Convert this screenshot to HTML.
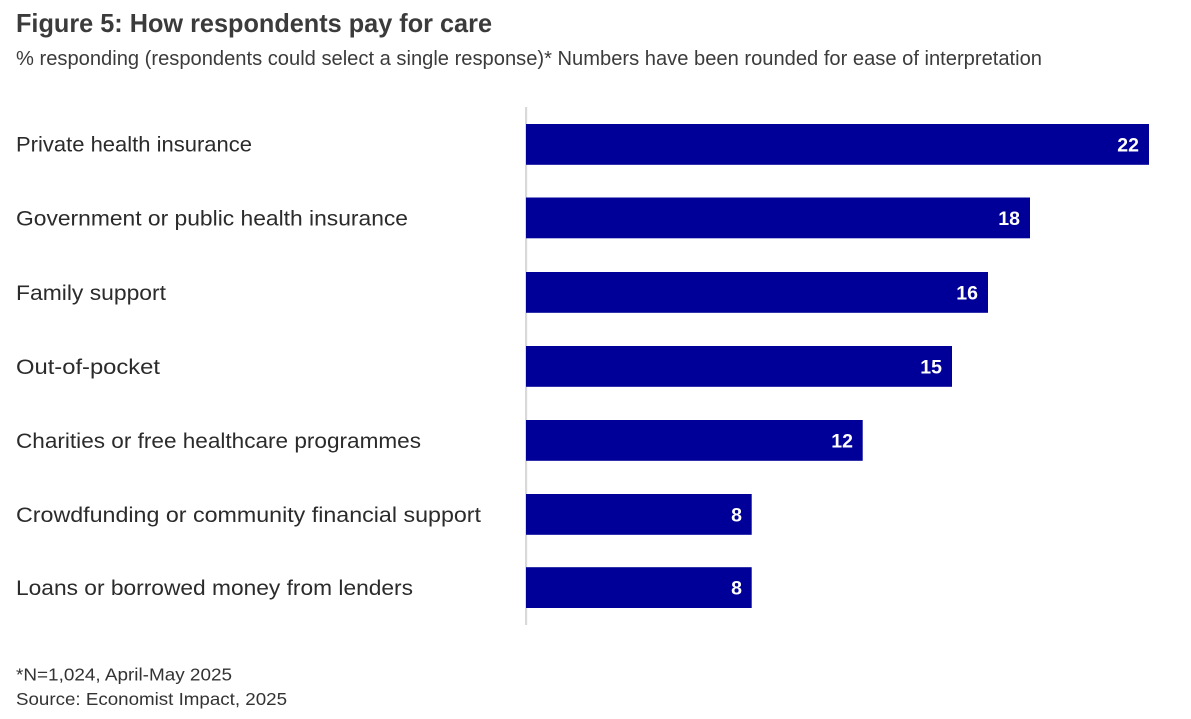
<!DOCTYPE html>
<html>
<head>
<meta charset="utf-8">
<style>
  html,body{margin:0;padding:0;background:#fff;}
  svg{display:block;}
  text{font-family:"Liberation Sans", Arial, sans-serif;}
</style>
</head>
<body>
<svg width="1191" height="719" viewBox="0 0 1191 719" xmlns="http://www.w3.org/2000/svg">
  <rect x="0" y="0" width="1191" height="719" fill="#fff"/>
  <!-- Title -->
  <text x="16" y="32" font-size="26" font-weight="bold" fill="#3b3b3b" textLength="476" lengthAdjust="spacingAndGlyphs">Figure 5: How respondents pay for care</text>
  <text x="16" y="65" font-size="20" fill="#3b3b3b" textLength="1026" lengthAdjust="spacingAndGlyphs">% responding (respondents could select a single response)* Numbers have been rounded for ease of interpretation</text>

  <!-- Axis line -->
  <rect x="525" y="107" width="2.2" height="518" fill="#d9d9d9"/>

  <!-- Bars -->
  <g fill="#000099">
    <rect x="526" y="124" width="623" height="40.8"/>
    <rect x="526" y="197.5" width="504" height="40.8"/>
    <rect x="526" y="272" width="462" height="40.8"/>
    <rect x="526" y="346" width="426" height="40.8"/>
    <rect x="526" y="420" width="336.7" height="40.8"/>
    <rect x="526" y="494" width="225.7" height="40.8"/>
    <rect x="526" y="567.2" width="225.7" height="40.8"/>
  </g>

  <!-- Value labels -->
  <g font-size="19.5" font-weight="bold" fill="#fff" text-anchor="end">
    <text x="1139" y="151.7">22</text>
    <text x="1020" y="225">18</text>
    <text x="978" y="299.5">16</text>
    <text x="942" y="373.5">15</text>
    <text x="853" y="447.5">12</text>
    <text x="742" y="521.5">8</text>
    <text x="742" y="594.7">8</text>
  </g>

  <!-- Category labels -->
  <g font-size="21" fill="#2b2b2b">
    <text x="16" y="151.7" textLength="236" lengthAdjust="spacingAndGlyphs">Private health insurance</text>
    <text x="16" y="225.3" textLength="392" lengthAdjust="spacingAndGlyphs">Government or public health insurance</text>
    <text x="16" y="299.8" textLength="150" lengthAdjust="spacingAndGlyphs">Family support</text>
    <text x="16" y="373.8" textLength="144" lengthAdjust="spacingAndGlyphs">Out-of-pocket</text>
    <text x="16" y="447.8" textLength="405" lengthAdjust="spacingAndGlyphs">Charities or free healthcare programmes</text>
    <text x="16" y="521.8" textLength="465" lengthAdjust="spacingAndGlyphs">Crowdfunding or community financial support</text>
    <text x="16" y="595" textLength="397" lengthAdjust="spacingAndGlyphs">Loans or borrowed money from lenders</text>
  </g>

  <!-- Footer -->
  <g font-size="17.5" fill="#333">
    <text x="16" y="680.7" textLength="216" lengthAdjust="spacingAndGlyphs">*N=1,024, April-May 2025</text>
    <text x="16" y="705" textLength="271" lengthAdjust="spacingAndGlyphs">Source: Economist Impact, 2025</text>
  </g>
</svg>
</body>
</html>
